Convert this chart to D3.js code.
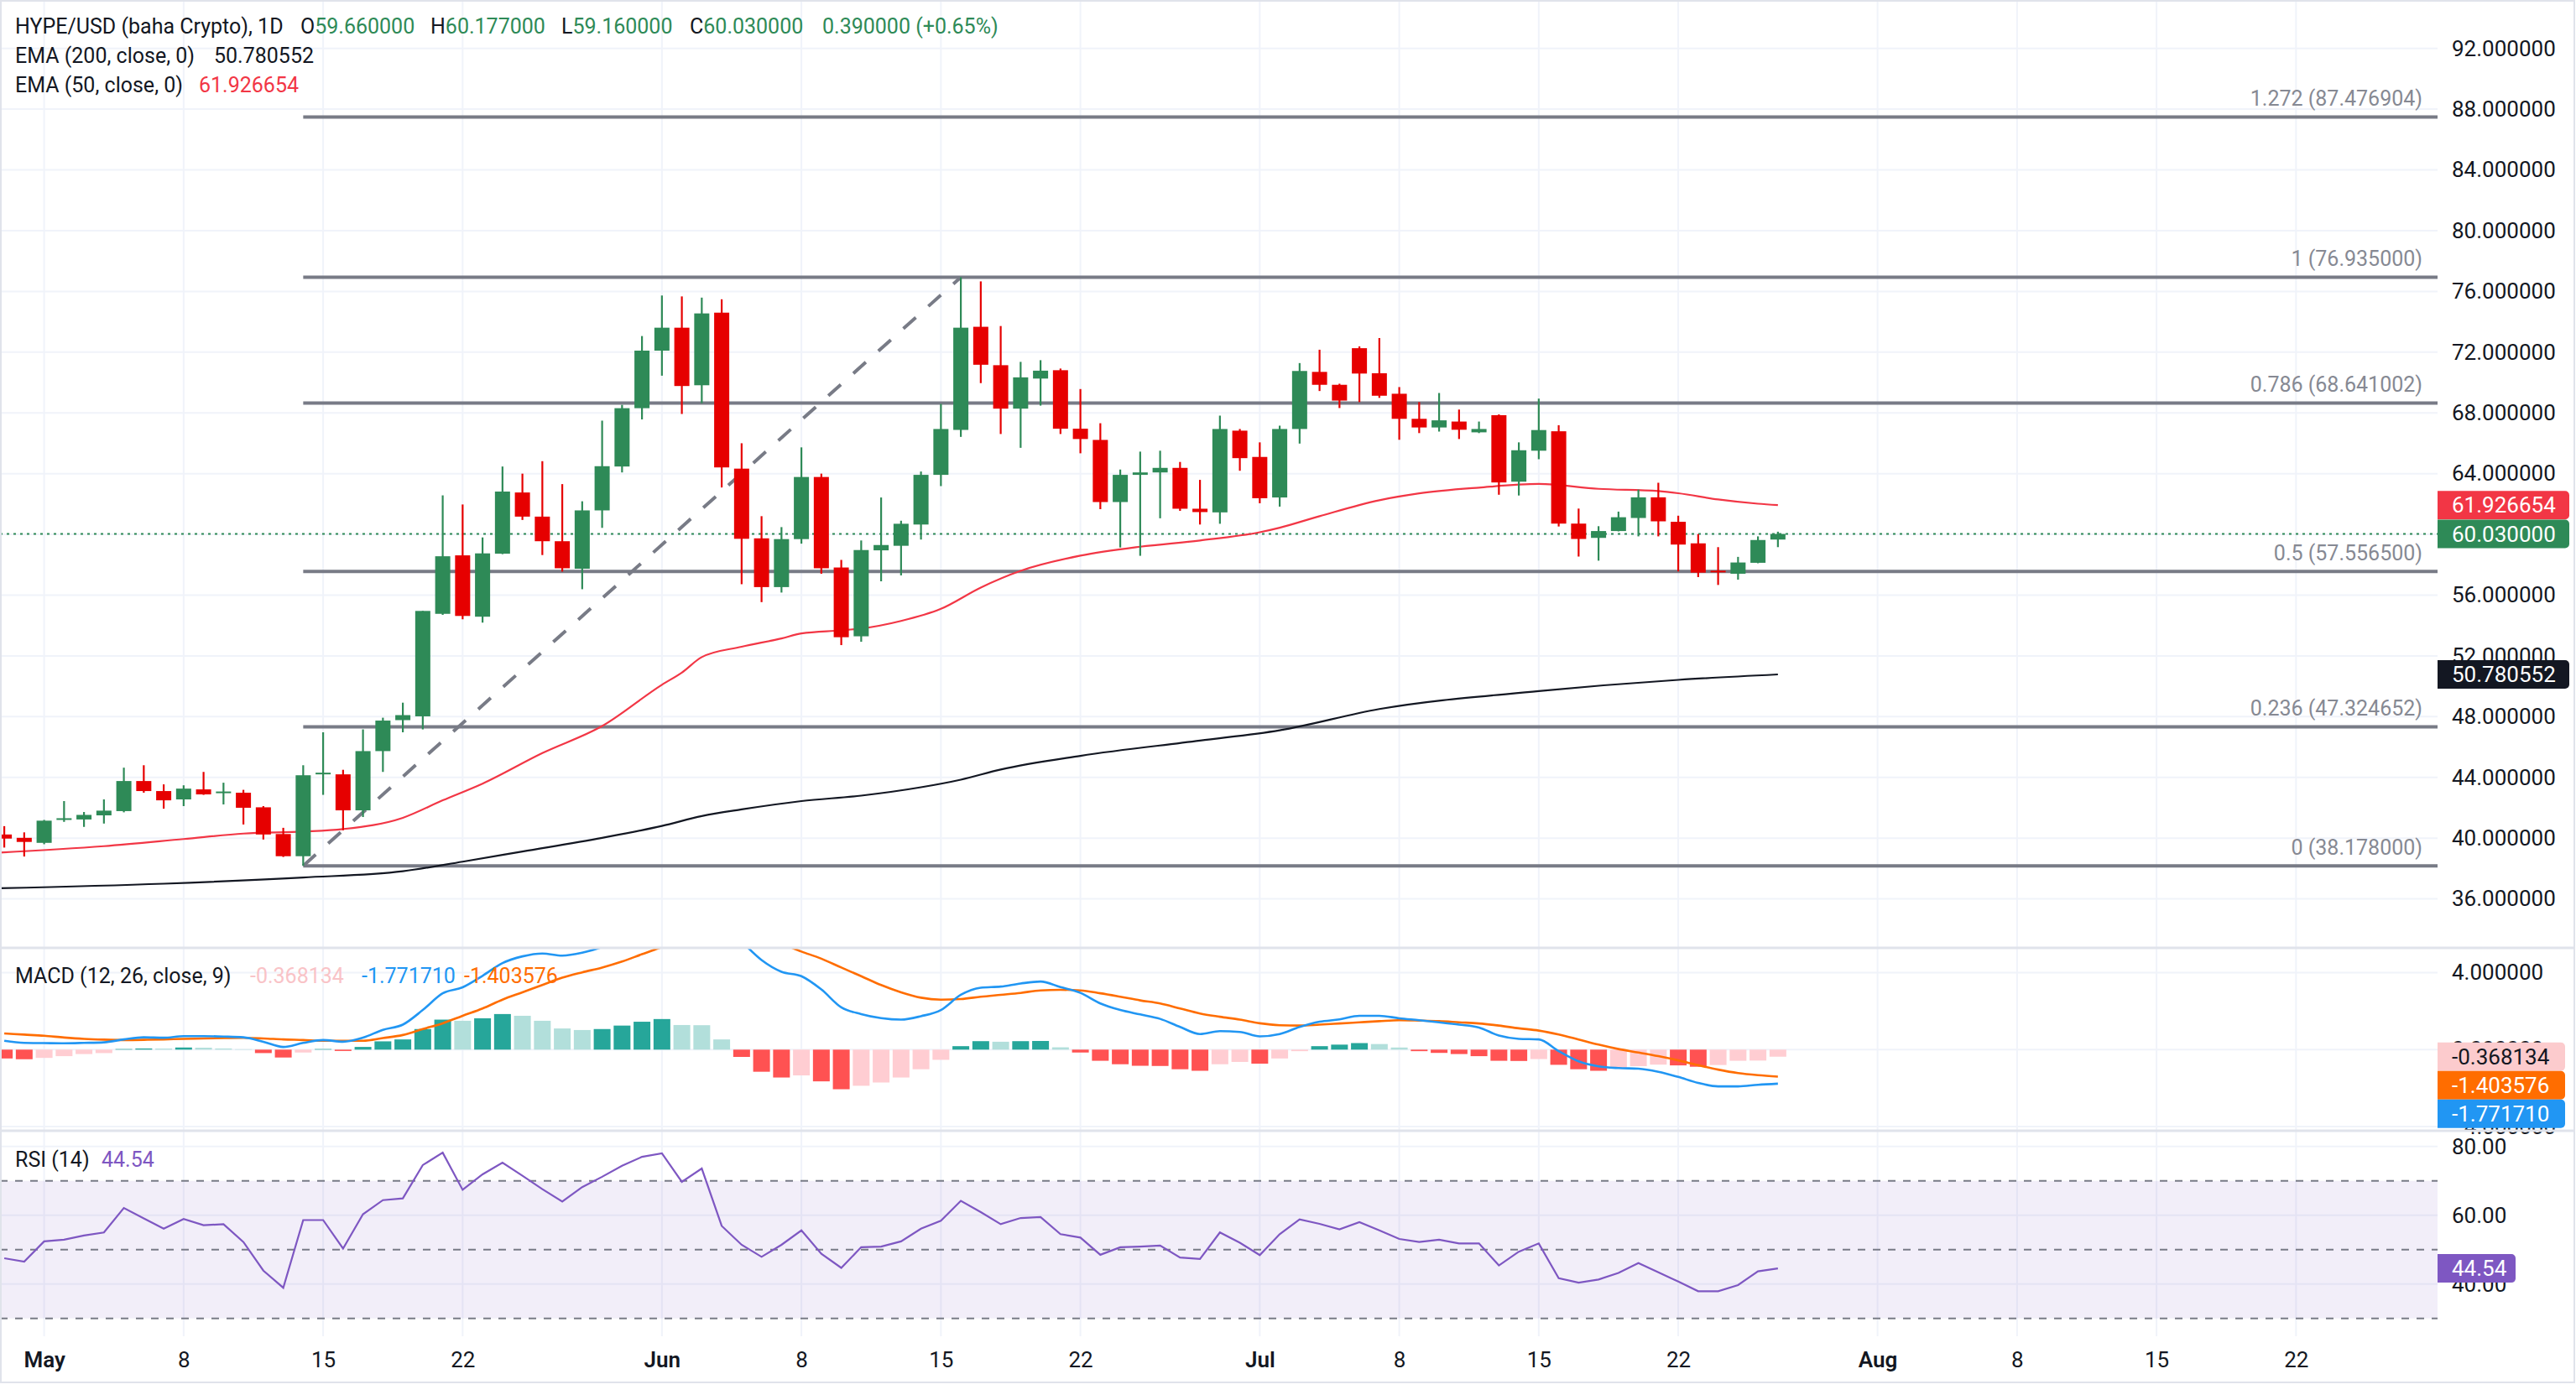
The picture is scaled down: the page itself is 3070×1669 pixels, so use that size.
<!DOCTYPE html>
<html>
<head>
<meta charset="utf-8">
<script src="https://cdn.jsdelivr.net/npm/d3@7"></script>
<style>
  html, body { margin: 0; padding: 0; background: #fff; }
  svg { display: block; font-family: Roboto, "Liberation Sans", sans-serif; }
</style>
</head>
<body>
<svg id="chart" width="3070" height="1669"></svg>
<script>
// daily candles, first one is Apr 29
const firstDay = "2025-04-29";
const opens = [40.24, 40.02,
  39.69, 41.23, 41.23, 41.5, 41.78, 43.76, 43.1, 42.55, 43.21, 42.99, 42.99, 42.03, 40.27, 38.81, 44.22, 44.2, 41.83, 45.73, 47.77, 48.02, 54.77, 58.62, 54.58, 58.73, 62.76, 61.17, 59.55, 57.74, 61.58, 64.47, 68.31,
  72.1, 73.61, 69.82, 74.6, 64.33, 59.74, 56.53, 59.69, 63.78, 57.82, 53.29, 58.95, 59.25, 60.65, 63.92, 66.88, 73.67, 71.14, 68.28, 70.26, 70.81, 66.96, 66.22, 62.13, 63.92, 64.08, 64.38, 61.69, 61.45, 66.83,
  65.1, 62.43, 66.94, 70.7, 69.85, 72.26, 70.61, 69.26, 67.61, 67.04, 67.43, 66.72, 67.85, 63.47, 65.51, 66.79, 60.71, 59.77, 60.22, 61.08, 62.44, 60.83, 59.41, 57.61, 57.41, 58.13, 59.66];
const highs = [40.79, 40.38,
  41.2, 42.44, 41.72, 42.55, 44.64, 44.8, 43.54, 43.48, 44.36, 43.65, 43.18, 42.11, 40.68, 44.8, 46.97, 44.5, 47.16, 47.93, 48.92, 54.96, 62.57, 61.97, 59.8, 64.47, 64.0, 64.82, 63.31, 62.18, 67.49, 68.53, 73.06,
  75.73, 75.67, 75.59, 75.48, 66.0, 61.2, 60.48, 65.73, 64.0, 58.32, 59.6, 62.43, 60.9, 64.14, 68.59, 76.935, 76.66, 73.72, 71.36, 71.47, 70.92, 69.57, 67.32, 64.27, 65.45, 65.51, 64.77, 63.59, 67.82, 66.94,
  66.06, 67.16, 71.28, 72.16, 69.92, 72.38, 72.93, 69.7, 68.71, 69.31, 68.22, 67.43, 67.9, 66.06, 68.94, 67.19, 61.7, 60.54, 61.5, 62.95, 63.4, 61.23, 60.02, 59.16, 58.52, 59.87, 60.177];
const lows = [39.38, 38.79,
  39.6, 41.07, 40.74, 40.96, 41.7, 42.99, 41.94, 42.11, 42.85, 42.22, 40.9, 39.91, 38.76, 38.178, 42.85, 40.52, 41.39, 44.36, 46.97, 47.16, 54.7, 54.41, 54.19, 58.7, 60.95, 58.64, 57.55, 56.39, 60.43, 64.08, 67.57,
  70.45, 67.93, 68.64, 63.09, 56.72, 55.54, 56.17, 59.39, 57.41, 52.71, 52.93, 56.91, 57.3, 59.66, 63.18, 66.42, 69.96, 66.61, 65.7, 68.48, 66.61, 65.34, 61.66, 59.14, 58.59, 61.06, 61.55, 60.65, 60.7, 64.19,
  62.05, 61.83, 65.98, 69.44, 68.32, 68.71, 68.99, 66.23, 66.67, 66.77, 66.28, 66.67, 62.61, 62.56, 64.95, 60.52, 58.54, 58.27, 60.2, 59.87, 59.87, 57.56, 57.19, 56.67, 57.02, 58.1, 59.16];
const closes = [39.97, 39.75,
  41.15, 41.31, 41.53, 41.81, 43.76, 43.1, 42.49, 43.26, 42.88, 43.07, 42.0, 40.24, 38.81, 44.14, 44.31, 41.83, 45.73, 47.74, 48.1, 54.96, 58.56, 54.63, 58.75, 62.82, 61.17, 59.55, 57.77, 61.58, 64.49, 68.31, 72.1,
  73.61, 69.77, 74.55, 64.41, 59.71, 56.53, 59.69, 63.78, 57.77, 53.23, 58.97, 59.3, 60.7, 63.92, 66.94, 73.61, 71.17, 68.28, 70.34, 70.78, 66.96, 66.28, 62.13, 63.92, 64.08, 64.38, 61.69, 61.47, 66.94, 65.02,
  62.38, 66.94, 70.76, 69.85, 68.81, 70.59, 69.13, 67.61, 67.04, 67.51, 66.89, 66.94, 63.42, 65.54, 66.87, 60.71, 59.7, 60.22, 61.13, 62.44, 60.86, 59.33, 57.48, 57.51, 58.15, 59.63, 60.03];

// moving averages read at points along the lines
const ema50Points = [
  ["2025-04-28", 39.0], ["2025-05-04", 39.47], ["2025-05-08", 39.94], ["2025-05-11", 40.3],
  ["2025-05-14", 40.43], ["2025-05-16", 40.6], ["2025-05-19", 41.34], ["2025-05-21", 42.49],
  ["2025-05-23", 43.59], ["2025-05-26", 45.6], ["2025-05-29", 47.38], ["2025-06-01", 50.1],
  ["2025-06-02", 50.9], ["2025-06-03", 51.92], ["2025-06-05", 52.6], ["2025-06-07", 53.15],
  ["2025-06-08", 53.48], ["2025-06-10", 53.68], ["2025-06-11", 53.8], ["2025-06-13", 54.3],
  ["2025-06-15", 55.1], ["2025-06-17", 56.5], ["2025-06-19", 57.6], ["2025-06-22", 58.6],
  ["2025-06-25", 59.19], ["2025-06-28", 59.6], ["2025-07-01", 60.14], ["2025-07-02", 60.44],
  ["2025-07-04", 61.2], ["2025-07-07", 62.25], ["2025-07-09", 62.7], ["2025-07-12", 63.08],
  ["2025-07-15", 63.32], ["2025-07-18", 63.0], ["2025-07-21", 62.85], ["2025-07-22", 62.71],
  ["2025-07-24", 62.3], ["2025-07-26", 62.02], ["2025-07-27", 61.93]];
const ema200Points = [
  ["2025-04-28", 36.68], ["2025-05-07", 37.0], ["2025-05-14", 37.41], ["2025-05-19", 37.82],
  ["2025-05-22", 38.45], ["2025-05-25", 39.12], ["2025-05-29", 40.02], ["2025-06-01", 40.8],
  ["2025-06-03", 41.45], ["2025-06-05", 41.89], ["2025-06-08", 42.44], ["2025-06-11", 42.8],
  ["2025-06-14", 43.35], ["2025-06-16", 43.85], ["2025-06-18", 44.52], ["2025-06-22", 45.42],
  ["2025-06-28", 46.42], ["2025-07-02", 47.1], ["2025-07-07", 48.5], ["2025-07-15", 49.68],
  ["2025-07-22", 50.42], ["2025-07-27", 50.78]];

// MACD (12, 26, 9)
const macdLine = [0.46, 0.35,
  0.34, 0.33, 0.35, 0.38, 0.53, 0.64, 0.62, 0.7, 0.7, 0.68, 0.64, 0.41, 0.14, 0.35, 0.5, 0.41, 0.62, 1.03, 1.3, 2.06, 2.93, 3.24, 3.84, 4.5, 4.85, 5.0, 4.89, 5.04, 5.34, 5.83, 6.41,
  6.92, 6.93, 7.22, 6.61, 5.62, 4.66, 4.05, 3.82, 3.13, 2.2, 1.85, 1.64, 1.56, 1.74, 2.06, 2.85, 3.22, 3.28, 3.44, 3.54, 3.25, 2.95, 2.4, 2.06, 1.83, 1.6, 1.18, 0.81, 0.96, 0.92,
  0.69, 0.81, 1.18, 1.45, 1.57, 1.76, 1.76, 1.63, 1.53, 1.42, 1.3, 1.15, 0.73, 0.56, 0.53, -0.08, -0.61, -0.87, -0.96, -0.99, -1.15, -1.42, -1.73, -1.91, -1.91, -1.83, -1.772];
const signalLine = [0.84, 0.78,
  0.72, 0.63, 0.56, 0.52, 0.5, 0.51, 0.53, 0.56, 0.58, 0.6, 0.61, 0.58, 0.53, 0.5, 0.46, 0.46, 0.46, 0.6, 0.76, 1.07, 1.37, 1.76, 2.14, 2.6, 2.98, 3.36, 3.74, 4.02, 4.27, 4.58, 4.96,
  5.33, 5.65, 5.95, 6.08, 6.0, 5.8, 5.5, 5.1, 4.73, 4.27, 3.82, 3.36, 2.98, 2.7, 2.6, 2.63, 2.75, 2.85, 2.95, 3.08, 3.11, 3.08, 2.93, 2.75, 2.56, 2.4, 2.14, 1.88, 1.71, 1.56,
  1.37, 1.27, 1.25, 1.3, 1.36, 1.42, 1.48, 1.53, 1.51, 1.48, 1.42, 1.36, 1.25, 1.11, 0.99, 0.79, 0.53, 0.26, 0.03, -0.15, -0.34, -0.56, -0.81, -1.04, -1.22, -1.33, -1.404];
const histogram = [-0.46, -0.5,
  -0.43, -0.34, -0.23, -0.18, 0.03, 0.06, 0.055, 0.11, 0.1, 0.06, 0.02, -0.18, -0.41, -0.15, 0.03, -0.07, 0.14, 0.43, 0.53, 1.07, 1.56, 1.5, 1.63, 1.85, 1.76, 1.5, 1.1, 1.02, 1.07, 1.25, 1.45,
  1.59, 1.28, 1.27, 0.53, -0.38, -1.15, -1.45, -1.34, -1.65, -2.06, -1.88, -1.71, -1.45, -1.02, -0.53, 0.18, 0.44, 0.41, 0.44, 0.45, 0.12, -0.15, -0.58, -0.76, -0.84, -0.85, -1.02, -1.1, -0.76, -0.64,
  -0.73, -0.46, -0.08, 0.18, 0.26, 0.34, 0.29, 0.11, -0.08, -0.17, -0.23, -0.34, -0.58, -0.59, -0.49, -0.79, -1.02, -1.1, -0.95, -0.86, -0.78, -0.82, -0.89, -0.8, -0.58, -0.57, -0.368];

// RSI (14)
const rsiValues = [47.5, 46.5,
  52.4, 52.9, 54.1, 55.0, 62.1, 59.1, 56.1, 58.9, 57.1, 57.4, 52.2, 43.9, 38.9, 58.6, 58.6, 50.3, 60.3, 64.4, 64.9, 74.6, 78.2, 67.4, 71.9, 75.3, 71.5, 67.6, 64.0, 68.2, 71.2, 74.4, 77.0,
  78.0, 69.7, 73.6, 56.9, 51.4, 47.9, 51.4, 55.6, 48.8, 44.7, 50.7, 50.9, 52.4, 56.1, 58.4, 64.2, 60.9, 57.4, 59.2, 59.5, 54.5, 53.5, 48.5, 50.7, 50.9, 51.2, 47.7, 47.3, 55.0, 52.0,
  48.4, 54.5, 58.8, 57.5, 55.9, 58.0, 55.6, 53.1, 52.2, 52.9, 51.8, 51.8, 45.4, 49.4, 51.8, 41.7, 40.4, 41.3, 43.2, 46.1, 43.4, 40.7, 37.9, 37.9, 39.7, 43.7, 44.54];

// fibonacci retracement drawn from the May 14 low to the Jun 16 high
const fibStart = "2025-05-14", fibEnd = "2025-06-16";
const fibLow = 38.178, fibHigh = 76.935;
const fibLevels = [0, 0.236, 0.5, 0.786, 1, 1.272];

const priceTicks = [36, 40, 44, 48, 52, 56, 64, 68, 72, 76, 80, 84, 88, 92];
const macdTicks = [-4, 0, 4];
const rsiTicks = [40, 60, 80];
const timeTicks = ["2025-05-01", "2025-05-08", "2025-05-15", "2025-05-22", "2025-06-01", "2025-06-08",
  "2025-06-15", "2025-06-22", "2025-07-01", "2025-07-08", "2025-07-15", "2025-07-22",
  "2025-08-01", "2025-08-08", "2025-08-15", "2025-08-22"];

const lastClose = 60.03, lastEma50 = 61.926654, lastEma200 = 50.780552;

const upColor = "#2e8a57", downColor = "#e60000", dark = "#131722", fibGray = "#787b86";

const parse = d3.utcParse("%Y-%m-%d");
const start = parse(firstDay);
const candles = closes.map((c, i) => ({
  date: d3.utcDay.offset(start, i), o: opens[i], h: highs[i], l: lows[i], c: c,
  macd: macdLine[i], signal: signalLine[i], hist: histogram[i], rsi: rsiValues[i]
}));

const svg = d3.select("#chart");
const plotR = 2905;

const x = d3.scaleUtc().domain([parse("2025-05-01"), parse("2025-07-22")]).range([52.6, 2000.1]);
const y = d3.scaleLinear().domain([36, 92]).range([1071.6, 57.7]);
const yMacd = d3.scaleLinear().domain([-4, 4]).range([1343, 1159.6]);
const yRsi = d3.scaleLinear().domain([40, 80]).range([1530.7, 1366.8]);

const defs = svg.append("defs");
function clip(id, top, bottom) {
  defs.append("clipPath").attr("id", id).append("rect")
    .attr("x", 0).attr("y", top).attr("width", plotR).attr("height", bottom - top);
}
clip("cPrice", 0, 1129);
clip("cMacd", 1131, 1347);
clip("cRsi", 1349, 1593);

svg.append("rect").attr("width", 3070).attr("height", 1669).attr("fill", "#fff");

// grid
const grid = svg.append("g").attr("stroke", "#f0f3fa").attr("stroke-width", 2);
grid.selectAll(".vg").data(timeTicks).join("line")
  .attr("x1", d => x(parse(d))).attr("x2", d => x(parse(d)))
  .attr("y1", 0).attr("y2", 1593);
grid.selectAll(".pg").data(priceTicks.concat([60])).join("line")
  .attr("x1", 0).attr("x2", plotR).attr("y1", d => y(d)).attr("y2", d => y(d));
grid.selectAll(".mg").data(macdTicks).join("line")
  .attr("x1", 0).attr("x2", plotR).attr("y1", d => yMacd(d)).attr("y2", d => yMacd(d));
grid.selectAll(".rg").data(rsiTicks).join("line")
  .attr("x1", 0).attr("x2", plotR).attr("y1", d => yRsi(d)).attr("y2", d => yRsi(d));

// ---- price pane
const price = svg.append("g").attr("clip-path", "url(#cPrice)");

// fib levels
const fibX0 = x(parse(fibStart));
const fib = price.append("g");
fib.selectAll("line").data(fibLevels).join("line")
  .attr("x1", fibX0).attr("x2", plotR)
  .attr("y1", d => y(fibLow + d * (fibHigh - fibLow)))
  .attr("y2", d => y(fibLow + d * (fibHigh - fibLow)))
  .attr("stroke", fibGray).attr("stroke-width", 4);
fib.selectAll("text").data(fibLevels).join("text")
  .attr("x", 2887).attr("y", d => y(fibLow + d * (fibHigh - fibLow)) - 22)
  .attr("dy", "0.35em").attr("text-anchor", "end")
  .attr("font-size", 25).attr("fill", "#868993")
  .text(d => d + " (" + (fibLow + d * (fibHigh - fibLow)).toFixed(6) + ")");

// trend line of the fib
price.append("line")
  .attr("x1", fibX0).attr("y1", y(fibLow))
  .attr("x2", x(parse(fibEnd))).attr("y2", y(fibHigh))
  .attr("stroke", fibGray).attr("stroke-width", 4)
  .attr("stroke-dasharray", "20,20");

// last price dotted line
price.append("line")
  .attr("x1", 0).attr("x2", plotR).attr("y1", y(lastClose)).attr("y2", y(lastClose))
  .attr("stroke", upColor).attr("stroke-width", 2).attr("stroke-dasharray", "3,5");

// emas
const emaLine = d3.line().curve(d3.curveMonotoneX)
  .x(d => x(parse(d[0]))).y(d => y(d[1]));
price.append("path").datum(ema200Points).attr("d", emaLine)
  .attr("fill", "none").attr("stroke", dark).attr("stroke-width", 2.2);
price.append("path").datum(ema50Points).attr("d", emaLine)
  .attr("fill", "none").attr("stroke", "#f23645").attr("stroke-width", 2.2);

// candles
const bodyW = 18;
const cg = price.selectAll(".candle").data(candles).join("g")
  .attr("fill", d => d.c >= d.o ? upColor : downColor)
  .attr("stroke", d => d.c >= d.o ? upColor : downColor);
cg.append("line")
  .attr("x1", d => x(d.date)).attr("x2", d => x(d.date))
  .attr("y1", d => y(d.h)).attr("y2", d => y(d.l))
  .attr("stroke-width", 2.2);
cg.append("rect")
  .attr("x", d => x(d.date) - bodyW / 2).attr("width", bodyW)
  .attr("y", d => y(Math.max(d.o, d.c)))
  .attr("height", d => Math.max(2, Math.abs(y(d.o) - y(d.c))))
  .attr("stroke", "none");

// ---- MACD pane
const macd = svg.append("g").attr("clip-path", "url(#cMacd)");
const barW = 20;
macd.selectAll("rect").data(candles).join("rect")
  .attr("x", d => x(d.date) - barW / 2).attr("width", barW)
  .attr("y", d => yMacd(Math.max(0, d.hist)))
  .attr("height", d => Math.abs(yMacd(d.hist) - yMacd(0)))
  .attr("fill", (d, i) => {
    const prev = i > 0 ? candles[i - 1].hist : d.hist;
    if (d.hist >= 0) return d.hist >= prev ? "#26a69a" : "#b2dfdb";
    return d.hist <= prev ? "#ff5252" : "#ffcdd2";
  });
macd.append("path").datum(candles)
  .attr("d", d3.line().x(d => x(d.date)).y(d => yMacd(d.signal)).curve(d3.curveMonotoneX))
  .attr("fill", "none").attr("stroke", "#ff6d00").attr("stroke-width", 2.6);
macd.append("path").datum(candles)
  .attr("d", d3.line().x(d => x(d.date)).y(d => yMacd(d.macd)).curve(d3.curveMonotoneX))
  .attr("fill", "none").attr("stroke", "#2196f3").attr("stroke-width", 2.6);

// ---- RSI pane
const rsi = svg.append("g").attr("clip-path", "url(#cRsi)");
rsi.append("rect")
  .attr("x", 0).attr("width", plotR)
  .attr("y", yRsi(70)).attr("height", yRsi(30) - yRsi(70))
  .attr("fill", "#7e57c2").attr("fill-opacity", 0.1);
rsi.selectAll(".band").data([70, 50, 30]).join("line")
  .attr("x1", 0).attr("x2", plotR).attr("y1", d => yRsi(d)).attr("y2", d => yRsi(d))
  .attr("stroke", fibGray).attr("stroke-width", 2).attr("stroke-dasharray", "9,9");
rsi.append("path").datum(candles)
  .attr("d", d3.line().x(d => x(d.date)).y(d => yRsi(d.rsi)))
  .attr("fill", "none").attr("stroke", "#7e57c2").attr("stroke-width", 2.2);

// ---- axes
function styleAxis(g) {
  g.select(".domain").remove();
  g.selectAll("text").attr("font-size", 26).attr("fill", dark)
    .attr("font-family", "Roboto, 'Liberation Sans', sans-serif");
}
svg.append("g").attr("transform", "translate(" + plotR + ",0)")
  .call(d3.axisRight(y).tickValues(priceTicks).tickFormat(d3.format(".6f")).tickSize(0).tickPadding(17))
  .call(styleAxis);
svg.append("g").attr("transform", "translate(" + plotR + ",0)")
  .call(d3.axisRight(yMacd).tickValues(macdTicks).tickFormat(d3.format(".6f")).tickSize(0).tickPadding(17))
  .call(styleAxis);
svg.append("g").attr("transform", "translate(" + plotR + ",0)")
  .call(d3.axisRight(yRsi).tickValues(rsiTicks).tickFormat(d3.format(".2f")).tickSize(0).tickPadding(17))
  .call(styleAxis);

const monthFmt = d3.utcFormat("%b"), dayFmt = d3.utcFormat("%-d");
const xAxis = svg.append("g").attr("transform", "translate(0,1621)")
  .call(d3.axisBottom(x).tickValues(timeTicks.map(parse)).tickSize(0).tickPadding(0)
    .tickFormat(d => d.getUTCDate() === 1 ? monthFmt(d) : dayFmt(d)))
  .call(styleAxis);
xAxis.selectAll("text").attr("dy", "0.35em").attr("y", 0)
  .attr("font-weight", d => d.getUTCDate() === 1 ? 600 : 400);

// ---- value tags on the right scale
function tag(yPos, label, fill, color, w) {
  const g = svg.append("g");
  g.append("path")
    .attr("d", `M${plotR},${yPos - 17}h${w - 5}a5,5 0 0 1 5,5v24a5,5 0 0 1 -5,5h${-(w - 5)}z`)
    .attr("fill", fill);
  g.append("text").attr("x", 2922).attr("y", yPos).attr("dy", "0.35em")
    .attr("font-size", 26).attr("fill", color).text(label);
}
tag(y(lastEma50), lastEma50.toFixed(6), "#f23645", "#fff", 157);
tag(y(lastClose), lastClose.toFixed(6), upColor, "#fff", 157);
tag(y(lastEma200), lastEma200.toFixed(6), dark, "#fff", 157);
const macdTagY = yMacd(histogram[histogram.length - 1]);
tag(macdTagY, "-0.368134", "#fccbcd", dark, 152);
tag(macdTagY + 34, "-1.403576", "#ff6d00", "#fff", 152);
tag(macdTagY + 68, "-1.771710", "#2196f3", "#fff", 152);
tag(yRsi(rsiValues[rsiValues.length - 1]), "44.54", "#7e57c2", "#fff", 93);

// ---- legends
function legend(yPos, parts) {
  const t = svg.append("text").attr("y", yPos).attr("dy", "0.35em").attr("font-size", 25);
  parts.forEach(p => t.append("tspan").attr("x", p[2]).attr("fill", p[1]).text(p[0]));
}
function ohlc(yPos, letter, val, xPos) {
  const t = svg.append("text").attr("x", xPos).attr("y", yPos).attr("dy", "0.35em").attr("font-size", 25);
  t.append("tspan").attr("fill", dark).text(letter);
  t.append("tspan").attr("fill", upColor).text(val);
}
legend(31, [["HYPE/USD (baha Crypto), 1D", dark, 18]]);
ohlc(31, "O", "59.660000", 358);
ohlc(31, "H", "60.177000", 513);
ohlc(31, "L", "59.160000", 669);
ohlc(31, "C", "60.030000", 822);
legend(31, [["0.390000 (+0.65%)", upColor, 980]]);
legend(66, [["EMA (200, close, 0)", dark, 18], ["50.780552", dark, 255]]);
legend(101, [["EMA (50, close, 0)", dark, 18], ["61.926654", "#f23645", 237]]);
legend(1163, [["MACD (12, 26, close, 9)", dark, 18], ["-0.368134", "#f9c3c7", 298],
  ["-1.771710", "#2196f3", 431], ["-1.403576", "#ff6d00", 553]]);
legend(1382, [["RSI (14)", dark, 18], ["44.54", "#7e57c2", 121]]);

// ---- frame and pane separators
svg.append("rect").attr("x", 1).attr("y", 1).attr("width", 3067).attr("height", 1647)
  .attr("fill", "none").attr("stroke", "#e0e3eb").attr("stroke-width", 2);
svg.selectAll(".sep").data([1130, 1348]).join("line")
  .attr("x1", 0).attr("x2", 3068).attr("y1", d => d).attr("y2", d => d)
  .attr("stroke", "#e0e3eb").attr("stroke-width", 3);
</script>
</body>
</html>
